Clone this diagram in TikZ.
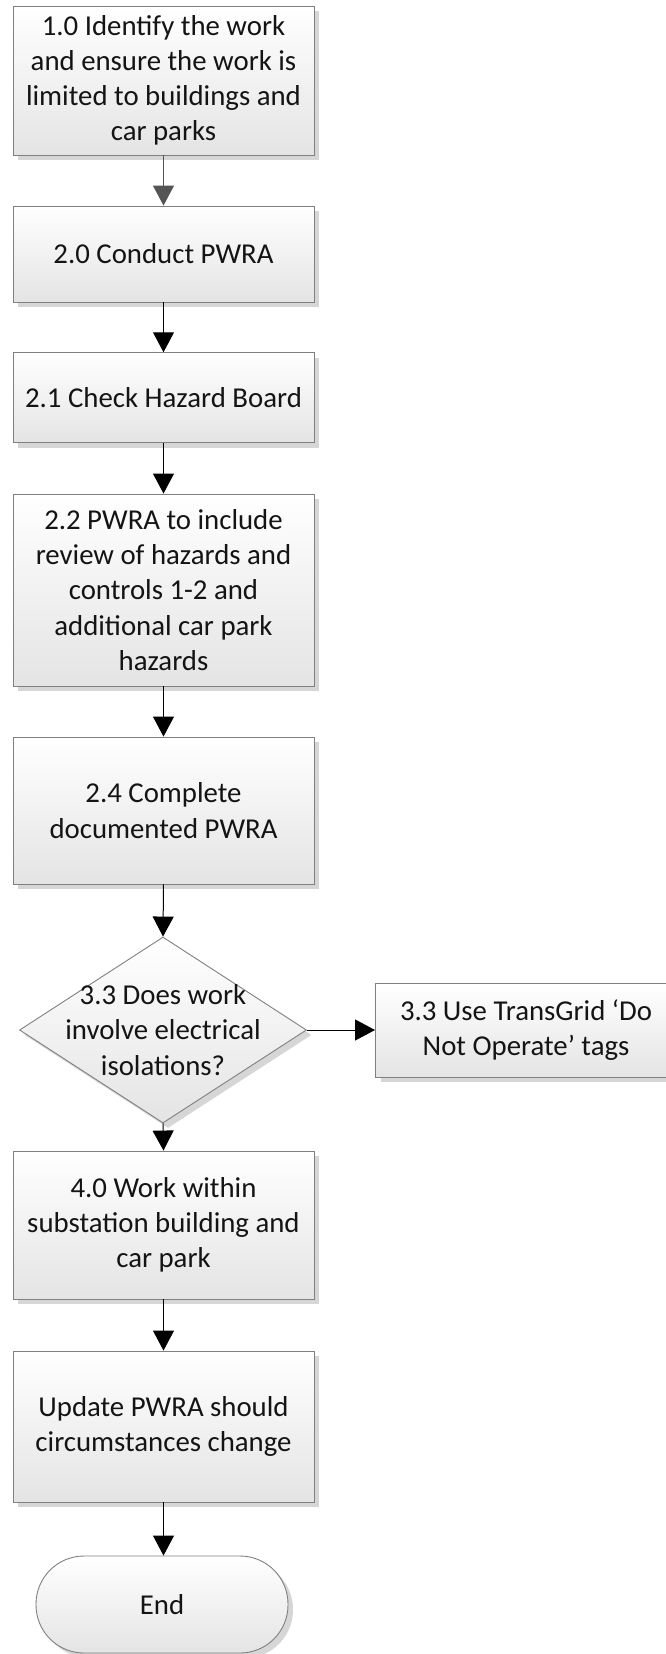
\documentclass[tikz,border=0pt]{standalone}
\usepackage{fontspec}
\setmainfont{Carlito}
\usetikzlibrary{shapes.geometric,arrows.meta,shadows}
\definecolor{bd}{RGB}{128,128,128}
\definecolor{sh}{RGB}{214,214,214}
\definecolor{fb}{RGB}{228,228,228}
\definecolor{txt}{RGB}{20,20,20}
\definecolor{ga}{RGB}{85,85,85}
\begin{document}
\begin{tikzpicture}[x=1pt,y=-1pt,
  shade/.style={draw=bd, line width=0.9pt, top color=white, bottom color=fb,
    drop shadow={shadow xshift=5pt, shadow yshift=-5pt, fill=sh, opacity=1}},
  lbl/.style={align=center, font=\fontsize{28.8}{35.2}\selectfont, text=txt},
  box/.style={rectangle, shade, lbl, minimum width=301pt, inner sep=0pt},
  dia/.style={diamond, shade, minimum width=287pt, minimum height=186pt, inner sep=0pt},
  endbox/.style={rectangle, rounded corners=48pt, shade, lbl, minimum width=252pt, minimum height=97pt, inner sep=0pt},
  ar/.style={draw=black, line width=1pt, -{Triangle[length=20pt,width=21pt]}},
  arg/.style={draw=ga, line width=1pt, -{Triangle[length=20pt,width=21pt]}}
]
\useasboundingbox (0,0) rectangle (666,1654);
\node[box, minimum height=149pt] (n1) at (163.5,80.5) {1.0 Identify the work\\and ensure the work is\\limited to buildings and\\car parks};
\node[box, minimum height=96pt] (n2) at (163.5,254) {2.0 Conduct PWRA};
\node[box, minimum height=90pt] (n3) at (163.5,397.7) {2.1 Check Hazard Board};
\node[box, minimum height=192pt] (n4) at (163.5,590) {2.2 PWRA to include\\review of hazards and\\controls 1-2 and\\additional car park\\hazards};
\node[box, minimum height=147pt] (n5) at (163.5,810.5) {2.4 Complete\\documented PWRA};
\node[dia] (d) at (163,1030) {};
\node[lbl] (dt) at (d.center) {3.3 Does work\\involve electrical\\isolations?};
\node[box, minimum height=94pt] (r) at (526,1030) {3.3 Use TransGrid ‘Do\\Not Operate’ tags};
\node[box, minimum height=148pt] (n6) at (163.5,1225) {4.0 Work within\\substation building and\\car park};
\node[box, minimum height=151pt] (n7) at (163.5,1426.5) {Update PWRA should\\circumstances change};
\node[endbox] (e) at (162,1604.5) {End};
\draw[arg] (n1.south) -- (n2.north);
\draw[ar] (n2.south) -- (n3.north);
\draw[ar] (n3.south) -- (n4.north);
\draw[ar] (n4.south) -- (n5.north);
\draw[ar] (n5.south) -- (d.north);
\draw[ar] (d.east) -- (r.west);
\draw[ar] (d.south) -- (n6.north);
\draw[ar] (n6.south) -- (n7.north);
\draw[ar] (n7.south) -- (e.north -| n7.south);
\end{tikzpicture}
\end{document}
